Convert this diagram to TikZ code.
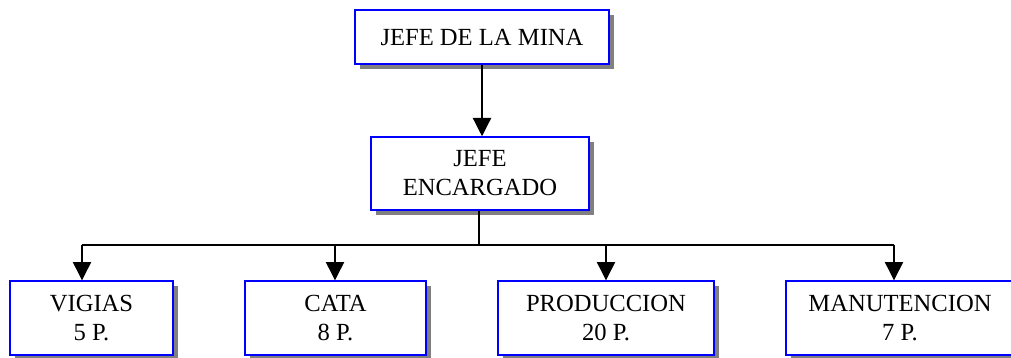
\documentclass[tikz,border=0pt]{standalone}
\usepackage{fontspec}
\setmainfont{Liberation Serif}
\usetikzlibrary{arrows.meta,shadows}
\definecolor{boxblue}{RGB}{0,0,255}
\begin{document}
\begin{tikzpicture}[x=0.025cm, y=-0.025cm]

\tikzstyle{box} = [draw=boxblue, line width=1pt, fill=white, align=center, inner sep=0pt,
  font=\fontsize{17.5}{20.5}\selectfont,
  drop shadow={shadow xshift=0.13cm, shadow yshift=-0.13cm, fill=gray, opacity=1}]
\tikzstyle{arrow} = [line width=0.9pt, -{Triangle[width=13pt,length=13pt]}]
\tikzstyle{line} = [line width=0.9pt]

\useasboundingbox (0,0) rectangle (1011,357);

% Top levels
\node (mina) [box, minimum width=6.35cm, minimum height=1.35cm] at (482,37) {JEFE DE LA MINA};
\node (encargado) [box, below of=mina, node distance=3.41cm, xshift=-0.05cm,
  minimum width=5.45cm, minimum height=1.825cm] {JEFE\\ENCARGADO};

% Bottom row
\node (vigias) [box, minimum width=4.075cm, minimum height=1.85cm] at (91.5,318) {VIGIAS\\5 P.};
\node (cata) [box, minimum width=4.525cm, minimum height=1.85cm] at (335.5,318) {CATA\\8 P.};
\node (produccion) [box, minimum width=5.4cm, minimum height=1.85cm] at (606,318) {PRODUCCION\\20 P.};
\node (manutencion) [box, minimum width=5.7cm, minimum height=1.85cm] at (900,318) {MANUTENCION\\7 P.};

% Bus
\coordinate (bus0) at (479,245);
\coordinate (bus1) at (82,245);
\coordinate (bus2) at (335,245);
\coordinate (bus3) at (606,245);
\coordinate (bus4) at (894,245);

% Paths
\draw [arrow] (mina.south) -- (mina.south |- encargado.north);
\draw [line] (encargado.south -| bus0) -- (bus0);
\draw [line] (bus1) -- (bus4);
\draw [arrow] (bus1) -- (bus1 |- vigias.north);
\draw [arrow] (bus2) -- (bus2 |- cata.north);
\draw [arrow] (bus3) -- (bus3 |- produccion.north);
\draw [arrow] (bus4) -- (bus4 |- manutencion.north);

\end{tikzpicture}
\end{document}
